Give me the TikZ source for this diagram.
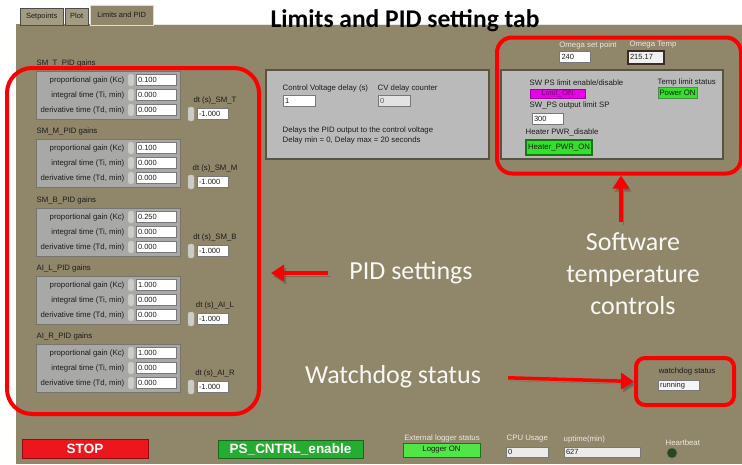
\documentclass[tikz,border=0pt]{standalone}
\usepackage{fontspec}
\setmainfont{Liberation Sans}
\newfontfamily\calfont{Carlito}
\usetikzlibrary{arrows.meta}
\definecolor{panelC}{RGB}{144,134,106}
\definecolor{tabC}{RGB}{163,155,130}
\definecolor{grpC}{RGB}{168,168,166}
\definecolor{grpB}{RGB}{118,116,108}
\definecolor{midC}{RGB}{186,186,186}
\definecolor{midB}{RGB}{88,84,68}
\definecolor{redC}{RGB}{250,0,0}
\definecolor{lightT}{RGB}{236,233,222}
\definecolor{bigT}{RGB}{248,248,244}
\definecolor{uiT}{RGB}{28,28,28}
\definecolor{boxB}{RGB}{120,120,120}
\definecolor{spinC}{RGB}{205,205,200}
\definecolor{greenB}{RGB}{50,225,40}
\definecolor{greenD}{RGB}{20,120,20}
\definecolor{ctrlG}{RGB}{38,172,48}
\definecolor{stopR}{RGB}{236,22,28}
\definecolor{magC}{RGB}{232,0,232}
\definecolor{omegaB}{RGB}{62,42,36}
\definecolor{ledC}{RGB}{40,72,30}
\definecolor{shadowC}{RGB}{96,88,66}
\begin{document}
\begin{tikzpicture}[x=1pt,y=-1pt,
  ui/.style={font=\fontsize{7.8}{9.5}\selectfont, text=uiT, inner sep=0.5pt},
  uilight/.style={font=\fontsize{7.8}{9.5}\selectfont, text=lightT, inner sep=0.5pt},
  val/.style={draw=boxB, fill=white, minimum height=11, inner xsep=2pt, inner ysep=0pt,
    text width=#1, align=left, font=\fontsize{7.5}{8}\selectfont, text=uiT},
  val/.default=36,
  spin/.style={draw=gray!60, fill=spinC, rounded corners=2pt, minimum width=6, minimum height=12, inner sep=0pt},
  grp/.style={draw=grpB, fill=grpC, line width=1pt, inner sep=0pt},
  midp/.style={draw=midB, fill=midC, line width=1.5pt, inner sep=0pt},
  tabbox/.style={draw=gray!60!black, fill=tabC, inner sep=0pt, font=\fontsize{7.5}{9}\selectfont, text=uiT},
  redframe/.style={draw=redC, line width=4pt, inner sep=0pt},
  redarrow/.style={draw=redC, line width=3.5pt, -{Triangle[length=13pt,width=16pt]},
    preaction={draw=shadowC, opacity=0.55, transform canvas={shift={(2pt,-3pt)}}}},
  biglabel/.style={font=\calfont\fontsize{26}{32}\selectfont, text=bigT, inner sep=0pt, align=center},
  btn/.style={inner sep=0pt, font=\fontsize{7.8}{9}\selectfont}
]
\useasboundingbox (0,0) rectangle (742,464);
\fill[white] (0,0) rectangle (742,464);
\fill[panelC] (16,24) rectangle (742,464);
\draw[white!80!panelC, line width=1pt] (153,24.5) -- (742,24.5);

% tabs
\node[tabbox, minimum width=43, minimum height=17, anchor=south west] (tab1) at (20,25) {Setpoints};
\node[tabbox, minimum width=23, minimum height=17, anchor=south west] (tab2) at (65,25) {Plot};
\node[tabbox, fill=panelC, draw=white!70!panelC, minimum width=63, minimum height=20, anchor=south west] (tab3) at (90,25.5) {Limits and PID};

% title
\node[font=\calfont\bfseries\fontsize{25.5}{30}\selectfont, anchor=base, inner sep=0pt] (title) at (405,27) {Limits and PID setting tab};

% PID groups
\foreach \h/\nm/\kc/\id in {63/SM\_T/0.100/t,131/SM\_M/0.100/m,200/SM\_B/0.250/b,268/AI\_L/1.000/l,336/AI\_R/1.000/r}{
  \node[ui, anchor=west] (hdr\id) at (36,\h) {\nm\_PID gains};
  \node[grp, minimum width=144, minimum height=48, anchor=north west] (grp\id) at (36,{\h+8}) {};
  \node[ui, anchor=east] (lp\id) at (125,{\h+17}) {proportional gain (Kc)};
  \node[ui, anchor=east] (li\id) at (125,{\h+32}) {integral time (Ti, min)};
  \node[ui, anchor=east] (ld\id) at (125,{\h+47}) {derivative time (Td, min)};
  \node[spin] (sp\id) at (131,{\h+17}) {};
  \node[spin] (si\id) at (131,{\h+32}) {};
  \node[spin] (sd\id) at (131,{\h+47}) {};
  \node[val] (vp\id) at (156,{\h+17}) {\kc};
  \node[val] (vi\id) at (156,{\h+32}) {0.000};
  \node[val] (vd\id) at (156,{\h+47}) {0.000};
  \node[ui] (dtl\id) at (215,{\h+37}) {dt (s)\_\nm};
  \node[spin, minimum height=14] (dts\id) at (191,{\h+51}) {};
  \node[val=27] (dtv\id) at (212.5,{\h+51}) {-1.000};
}

% middle panel
\node[midp, minimum width=223, minimum height=89, anchor=north west] (mid) at (265,69) {};
\node[ui, anchor=west] (cvl) at (282,88) {Control Voltage delay (s)};
\node[val=28] (cvv) at (299,101) {1};
\node[ui, anchor=west] (cdl) at (377,88) {CV delay counter};
\node[val=28, fill=gray!22, text=gray!70!black] (cdv) at (394,101) {0};
\node[ui, anchor=west, align=left] (note) at (282,135.5) {Delays the PID output to the control voltage\\Delay min = 0, Delay max = 20 seconds};

% software temperature controls area
\node[uilight] (osl) at (588,45) {Omega set point};
\node[val=27] (osv) at (575,56.5) {240};
\node[uilight] (otl) at (653,45) {Omega Temp};
\node[val=32, draw=omegaB, line width=2pt, minimum height=13, fill=gray!12] (otv) at (646,57) {215.17};
\node[midp, minimum width=222, minimum height=89, anchor=north west] (swp) at (500,69) {};
\node[ui, anchor=west] (swl) at (529,83) {SW PS limit enable/disable};
\node[btn, fill=magC, draw=magC!70!black, minimum width=55, minimum height=9, text=magC!45!black] (lim) at (557.5,93.5) {Limit\_ON};
\node[ui, anchor=west] (spl) at (529,105) {SW\_PS output limit SP};
\node[val=27] (spv) at (547.5,118.5) {300};
\node[ui, anchor=west] (hpl) at (525,132) {Heater PWR\_disable};
\node[btn, fill=greenB, draw=greenD, line width=1.2pt, minimum width=66, minimum height=15, text=uiT] (hpb) at (559,147.5) {Heater\_PWR\_ON};
\node[ui, anchor=west] (tll) at (657,82) {Temp limit status};
\node[btn, fill=greenB, draw=greenD!80, minimum width=39, minimum height=11, text=uiT] (tlb) at (677.5,92.5) {Power ON};

% watchdog
\node[ui] (wdsl) at (687,371) {watchdog status};
\node[val=37, fill=gray!8, minimum height=10] (wdsv) at (678.5,385.5) {running};

% bottom bar
\node[btn, fill=stopR, draw=stopR!60!black, minimum width=126, minimum height=19, text=white, font=\bfseries\fontsize{13.5}{15}\selectfont] (stop) at (85,448.5) {STOP};
\node[btn, fill=ctrlG, draw=ctrlG!60!black, minimum width=145, minimum height=18, text=white, font=\bfseries\fontsize{13.5}{15}\selectfont] (psc) at (290.5,449) {PS\_CNTRL\_enable};
\node[uilight] (ell) at (442,438) {External logger status};
\node[btn, fill=greenB!85!white, draw=greenD, minimum width=77, minimum height=14, text=uiT] (lgb) at (441.5,450) {Logger ON};
\node[uilight, anchor=west] (cpl) at (506,439) {CPU Usage};
\node[val=38, fill=gray!15, minimum height=10] (cpv) at (527,452) {0};
\node[uilight, anchor=west] (upl) at (563,439) {uptime(min)};
\node[val=72, fill=gray!15, minimum height=10] (upv) at (602,452) {627};
\node[uilight, anchor=west] (hbl) at (665,443) {Heartbeat};
\node[circle, fill=ledC, draw=black!60, minimum size=10, inner sep=0pt] (led) at (672,453) {};

% red annotation frames
\node[redframe, rounded corners=25pt, minimum width=252, minimum height=346, anchor=north west] (pidframe) at (5,66) {};
\node[redframe, rounded corners=15pt, minimum width=244, minimum height=136, anchor=north west] (swframe) at (495,35.5) {};
\node[redframe, rounded corners=9pt, minimum width=98, minimum height=47, anchor=north west] (wdframe) at (634,356) {};

% big labels
\node[biglabel] (pidl) at (411,273) {PID settings};
\node[biglabel] (swtl) at (633,274) {Software\\temperature\\controls};
\node[biglabel] (wdl) at (393,377) {Watchdog status};

% arrows
\draw[redarrow, shorten <=21pt, shorten >=10pt] (pidl.west) -- (pidframe.east |- pidl.west);
\draw[redarrow, shorten <=11pt, shorten >=0pt] ([xshift=-12pt]swtl.north) -- ([xshift=-12pt]swtl.north |- swframe.south);
\draw[redarrow, shorten <=27pt, shorten >=0pt] (wdl.east) -- (wdframe.west);
\end{tikzpicture}
\end{document}
